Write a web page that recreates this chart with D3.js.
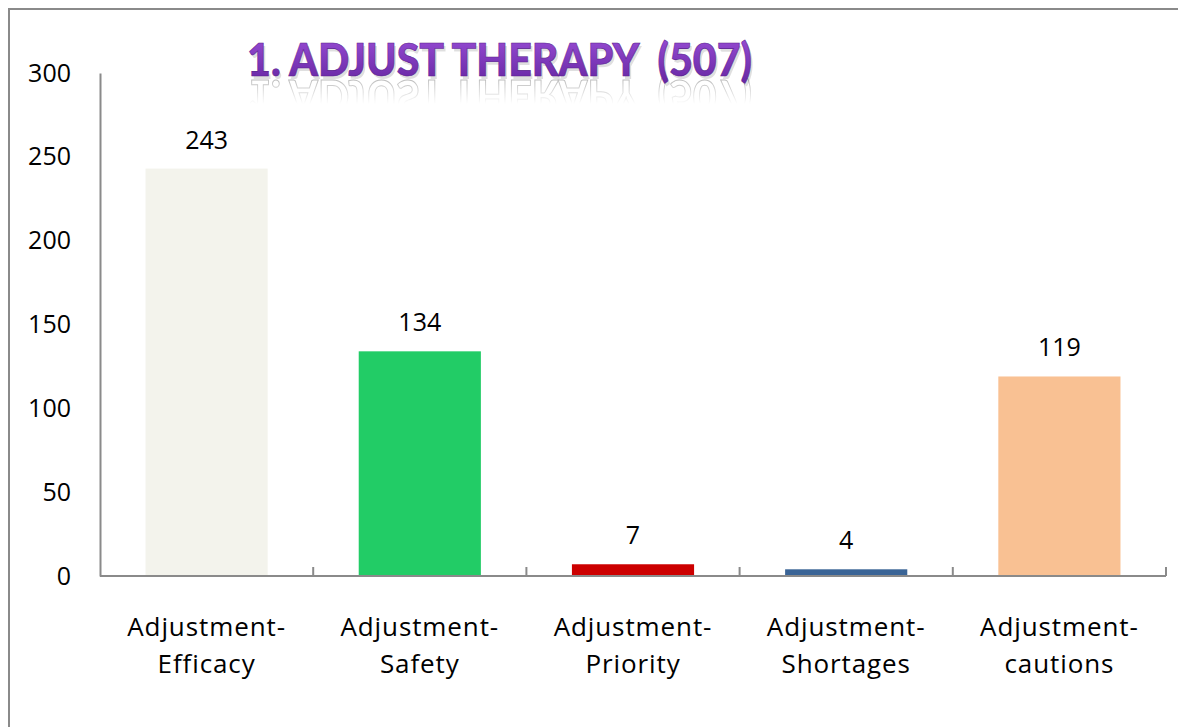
<!DOCTYPE html>
<html>
<head>
<meta charset="utf-8">
<script src="https://cdn.jsdelivr.net/npm/d3@7"></script>
<style>
  body { margin: 0; background: #fff; }
  svg { display: block; }
</style>
</head>
<body>
<div id="chart"></div>
<script>
// chart data
var categories = ["Adjustment-Efficacy", "Adjustment-Safety", "Adjustment-Priority", "Adjustment-Shortages", "Adjustment-cautions"];
var values = [243, 134, 7, 4, 119];
var barColors = ["#F3F3EC", "#22CC66", "#CC0000", "#3A6496", "#F9C193"];
var yTicks = [0, 50, 100, 150, 200, 250, 300];
var title = "1. ADJUST THERAPY  (507)";

var width = 1178, height = 727;
var margin = { left: 100, right: 12, top: 73, bottom: 151 };

var svg = d3.select("#chart").append("svg")
    .attr("width", width)
    .attr("height", height)
    .attr("font-family", "'Open Sans', sans-serif");

// outer frame (only left and top edges visible)
svg.append("rect")
    .attr("x", 9).attr("y", 9)
    .attr("width", 1400).attr("height", 1000)
    .attr("fill", "none")
    .attr("stroke", "#8a8a8a")
    .attr("stroke-width", 2);

var x = d3.scaleBand()
    .domain(categories)
    .range([margin.left, width - margin.right])
    .paddingInner(0.427)
    .paddingOuter(0.2135);

var y = d3.scaleLinear()
    .domain([0, 300])
    .range([height - margin.bottom, margin.top]);

// bars
svg.append("g").selectAll("rect")
    .data(values)
    .enter().append("rect")
    .attr("x", function(d, i) { return x(categories[i]); })
    .attr("y", function(d) { return y(d); })
    .attr("width", x.bandwidth())
    .attr("height", function(d) { return y(0) - y(d); })
    .attr("fill", function(d, i) { return barColors[i]; });

// data labels
svg.append("g").selectAll("text")
    .data(values)
    .enter().append("text")
    .attr("x", function(d, i) { return x(categories[i]) + x.bandwidth() / 2; })
    .attr("y", function(d) { return y(d) - 20; })
    .attr("text-anchor", "middle")
    .attr("font-size", 25)
    .attr("fill", "#000")
    .text(function(d) { return d; });

// y axis
var yAxis = svg.append("g")
    .attr("transform", "translate(" + margin.left + ",0)")
    .call(d3.axisLeft(y).tickValues(yTicks).tickSize(0).tickPadding(29));
yAxis.select(".domain").attr("stroke", "#8a8a8a").attr("stroke-width", 2);
yAxis.selectAll("text").attr("font-size", 25).attr("fill", "#000")
    .attr("font-family", "'Open Sans', sans-serif");

// x axis with inside ticks at category boundaries
var xAxisG = svg.append("g");
xAxisG.append("line")
    .attr("x1", margin.left).attr("x2", width - margin.right)
    .attr("y1", y(0)).attr("y2", y(0))
    .attr("stroke", "#8a8a8a").attr("stroke-width", 2);
var bounds = d3.range(1, categories.length + 1).map(function(i) { return margin.left + i * (width - margin.left - margin.right) / categories.length; });
xAxisG.selectAll(".tick")
    .data(bounds)
    .enter().append("line")
    .attr("x1", function(d) { return d; }).attr("x2", function(d) { return d; })
    .attr("y1", y(0)).attr("y2", y(0) - 9)
    .attr("stroke", "#8a8a8a").attr("stroke-width", 2);

// category labels on two lines
var catLabels = svg.append("g").selectAll("text")
    .data(categories)
    .enter().append("text")
    .attr("text-anchor", "middle")
    .attr("font-size", 26)
    .attr("letter-spacing", 0.9)
    .attr("fill", "#000");
catLabels.each(function(d) {
    var parts = d.split("-");
    var cx = x(d) + x.bandwidth() / 2;
    var t = d3.select(this);
    t.append("tspan").attr("x", cx).attr("y", 636).text(parts[0] + "-");
    t.append("tspan").attr("x", cx).attr("y", 673).text(parts[1]);
});

// title with gradient + shadow + reflection
var defs = svg.append("defs");
var grad = defs.append("linearGradient")
    .attr("id", "titleGrad").attr("x1", 0).attr("y1", 0).attr("x2", 0).attr("y2", 1);
grad.append("stop").attr("offset", "0%").attr("stop-color", "#9b4fd8");
grad.append("stop").attr("offset", "100%").attr("stop-color", "#6425a0");

var fade = defs.append("linearGradient")
    .attr("id", "fadeGrad").attr("x1", 0).attr("y1", 0).attr("x2", 0).attr("y2", 1);
fade.append("stop").attr("offset", "0%").attr("stop-color", "#fff").attr("stop-opacity", 0.9);
fade.append("stop").attr("offset", "100%").attr("stop-color", "#fff").attr("stop-opacity", 0);
defs.append("mask").attr("id", "fadeMask")
    .attr("maskUnits", "userSpaceOnUse")
    .attr("x", 0).attr("y", 0).attr("width", width).attr("height", height)
    .append("rect").attr("x", 230).attr("y", 78).attr("width", 540).attr("height", 26)
    .attr("fill", "url(#fadeGrad)");

var titleX = 247, titleBase = 76, titleW = 505;

// glyph copy used for shadow and reflection
defs.append("text")
    .attr("id", "titleGlyphs")
    .attr("x", titleX).attr("y", titleBase)
    .attr("font-family", "Lato, sans-serif")
    .attr("font-weight", 900)
    .attr("font-size", 45)
    .attr("textLength", titleW)
    .attr("lengthAdjust", "spacingAndGlyphs")
    .style("white-space", "pre")
    .text(title);

// reflection
svg.append("g")
    .attr("mask", "url(#fadeMask)")
    .append("use")
    .attr("href", "#titleGlyphs")
    .attr("transform", "translate(0," + (2 * titleBase + 4) + ") scale(1,-1)")
    .attr("fill", "#fff")
    .attr("stroke", "#b0b0b0")
    .attr("stroke-width", 1);

// shadow
svg.append("use")
    .attr("href", "#titleGlyphs")
    .attr("transform", "translate(2,3)")
    .attr("fill", "#000")
    .attr("opacity", 0.12);

svg.append("text")
    .attr("x", titleX).attr("y", titleBase)
    .attr("font-family", "Lato, sans-serif")
    .attr("font-weight", 900)
    .attr("font-size", 45)
    .attr("textLength", titleW)
    .attr("lengthAdjust", "spacingAndGlyphs")
    .style("white-space", "pre")
    .attr("fill", "url(#titleGrad)")
    .attr("stroke", "#5a1f8f")
    .attr("stroke-width", 0.6)
    .text(title);
</script>
</body>
</html>
